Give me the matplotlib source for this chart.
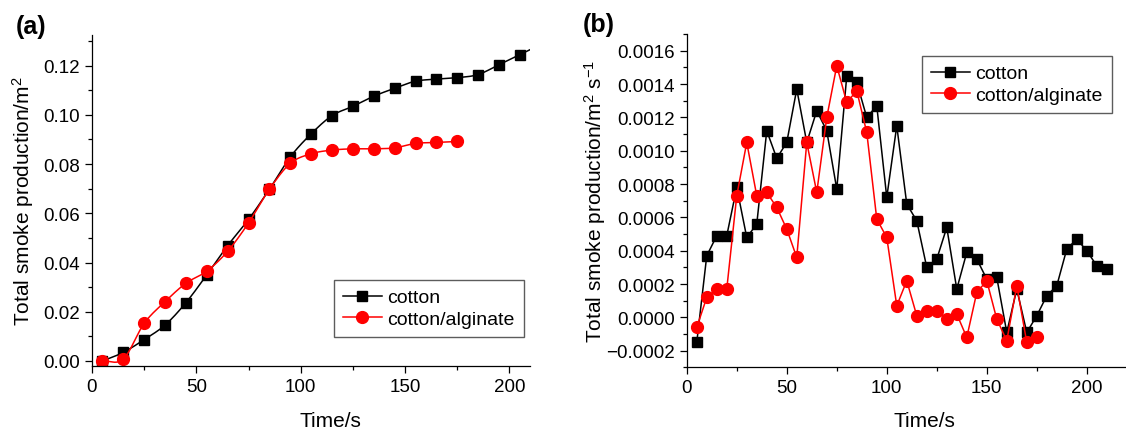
import numpy as np
import matplotlib
matplotlib.use("Agg")
import matplotlib.pyplot as plt
from matplotlib.ticker import MultipleLocator, FuncFormatter

plt.rcParams['font.family'] = ['Liberation Sans', 'DejaVu Sans']
plt.rcParams['mathtext.default'] = 'regular'

# (a) total smoke production
time_a = [5, 15, 25, 35, 45, 55, 65, 75, 85, 95, 105, 115, 125, 135, 145,
          155, 165, 175, 185, 195, 205]
tsp_cotton = [0.0000, 0.0035, 0.0087, 0.0146, 0.0237, 0.0350, 0.0469, 0.0575,
              0.0698, 0.0829, 0.0923, 0.0997, 0.1035, 0.1076, 0.1108, 0.1137,
              0.1145, 0.1151, 0.1164, 0.1204, 0.1245]
time_a_alg = time_a[:18]
tsp_alginate = [0.0000, 0.0008, 0.0153, 0.0241, 0.0316, 0.0365, 0.0446, 0.0561,
                0.0698, 0.0803, 0.0842, 0.0857, 0.0862, 0.0862, 0.0866, 0.0884,
                0.0888, 0.0892]

# (b) smoke production rate
time_b = list(range(5, 215, 5))
spr_cotton = [-0.00015, 0.00037, 0.00049, 0.00049, 0.00078, 0.00048, 0.00056,
              0.00112, 0.000955, 0.00105, 0.00137, 0.00105, 0.00124, 0.00112,
              0.00077, 0.00145, 0.00141, 0.00120, 0.00127, 0.00072, 0.00115,
              0.00068, 0.00058, 0.00030, 0.00035, 0.00054, 0.00017, 0.00039,
              0.00035, 0.00023, 0.00024, -0.00009, 0.00017, -0.00009, 0.00001,
              0.00013, 0.00019, 0.00041, 0.00047, 0.00040, 0.00031, 0.00029]
time_b_alg = time_b[:35]
spr_alginate = [-0.00006, 0.00012, 0.00017, 0.00017, 0.00073, 0.00105, 0.00073,
                0.00075, 0.00066, 0.00053, 0.00036, 0.00105, 0.00075, 0.00120,
                0.00151, 0.00129, 0.00136, 0.00111, 0.00059, 0.00048, 0.00007,
                0.00022, 0.00001, 0.00004, 0.00004, -0.00001, 0.00002, -0.00012,
                0.00015, 0.00022, -0.00001, -0.00014, 0.00019, -0.00015, -0.00012]


def smooth(x, y, n=24):
    # Catmull-Rom curve through the points
    p = np.column_stack([x, y]).astype(float)
    p = np.vstack([2 * p[0] - p[1], p, 2 * p[-1] - p[-2]])
    t = np.linspace(0, 1, n)[:, None]
    out = []
    for i in range(1, len(p) - 2):
        p0, p1, p2, p3 = p[i - 1], p[i], p[i + 1], p[i + 2]
        seg = 0.5 * ((2 * p1) + (-p0 + p2) * t + (2 * p0 - 5 * p1 + 4 * p2 - p3) * t ** 2
                     + (-p0 + 3 * p1 - 3 * p2 + p3) * t ** 3)
        out.append(seg)
    out = np.vstack(out)
    return out[:, 0], out[:, 1]


fig = plt.figure(figsize=(11.26, 4.31), dpi=100)
ax1 = fig.add_axes([0.0817, 0.1487, 0.3893, 0.768])
ax2 = fig.add_axes([0.6099, 0.1452, 0.3908, 0.7733])

fs = 13.5
for ax in (ax1, ax2):
    ax.spines['top'].set_visible(False)
    ax.spines['right'].set_visible(False)
    ax.tick_params(which='major', direction='out', length=5, width=0.9, labelsize=fs, pad=3.5)
    ax.tick_params(which='minor', direction='out', length=2.8, width=0.9)
    ax.xaxis.set_major_locator(MultipleLocator(50))
    ax.xaxis.set_minor_locator(MultipleLocator(25))
    for s in ax.spines.values():
        s.set_linewidth(0.9)

# panel (a)
sx, sy = smooth(time_a, tsp_cotton)
slope = (tsp_cotton[-1] - tsp_cotton[-2]) / (time_a[-1] - time_a[-2])
sx = np.append(sx, 212)
sy = np.append(sy, tsp_cotton[-1] + slope * (212 - time_a[-1]))
ax1.plot(sx, sy, color='black', lw=1.1)
ax1.plot(time_a, tsp_cotton, ls='none', marker='s', ms=7.8, color='black')
ax1.plot([], [], color='black', lw=1.1, marker='s', ms=7.8, label='cotton')
ax_x, ax_y = smooth(time_a_alg, tsp_alginate)
ax1.plot(ax_x, ax_y, color='red', lw=1.1)
ax1.plot(time_a_alg, tsp_alginate, ls='none', marker='o', ms=8.5, color='red')
ax1.plot([], [], color='red', lw=1.1, marker='o', ms=8.5, label='cotton/alginate')
ax1.set_xlim(0, 210)
ax1.set_ylim(-0.002, 0.1325)
ax1.yaxis.set_major_locator(MultipleLocator(0.02))
ax1.yaxis.set_minor_locator(MultipleLocator(0.01))
ax1.yaxis.set_major_formatter(FuncFormatter(lambda v, p: '%.2f' % v))
ax1.set_xlabel('Time/s', fontsize=15)
ax1.set_ylabel('Total smoke production/m$^2$', fontsize=15)
ax1.xaxis.set_label_coords(0.545, -0.135)
ax1.yaxis.set_label_coords(-0.128, 0.5)

# panel (b)
ax2.plot(time_b, spr_cotton, color='black', lw=1.1, marker='s', ms=7.8, label='cotton')
ax2.plot(time_b_alg, spr_alginate, color='red', lw=1.1, marker='o', ms=8.5,
         label='cotton/alginate')
ax2.set_xlim(0, 220)
ax2.set_ylim(-0.0003, 0.0017)
ax2.yaxis.set_major_locator(MultipleLocator(0.0002))
ax2.yaxis.set_minor_locator(MultipleLocator(0.0001))
ax2.yaxis.set_major_formatter(FuncFormatter(lambda v, p: ('%.4f' % v).replace('-', '\u2212')))
ax2.set_xlabel('Time/s', fontsize=15)
ax2.set_ylabel('Total smoke production/m$^2$ s$^{-1}$', fontsize=15)
ax2.xaxis.set_label_coords(0.541, -0.13)
ax2.yaxis.set_label_coords(-0.178, 0.5)

for ax, pos in ((ax1, (334 / 1126, 1 - 281 / 431)), (ax2, (922 / 1126, 1 - 57 / 431))):
    leg = ax.legend(loc='upper left', bbox_to_anchor=pos, bbox_transform=fig.transFigure,
                    fontsize=14, frameon=True, fancybox=False, borderaxespad=0,
                    handlelength=2.0, handletextpad=0.3, labelspacing=0.22,
                    borderpad=0.45)
    leg.get_frame().set_edgecolor('#333333')
    leg.get_frame().set_linewidth(1.0)

fig.text(31 / 1126, 1 - 27 / 431, '(a)', fontsize=18, fontweight='bold', ha='center', va='center')
fig.text(599 / 1126, 1 - 25 / 431, '(b)', fontsize=18, fontweight='bold', ha='center', va='center')

fig.savefig('out.png', dpi=100)
